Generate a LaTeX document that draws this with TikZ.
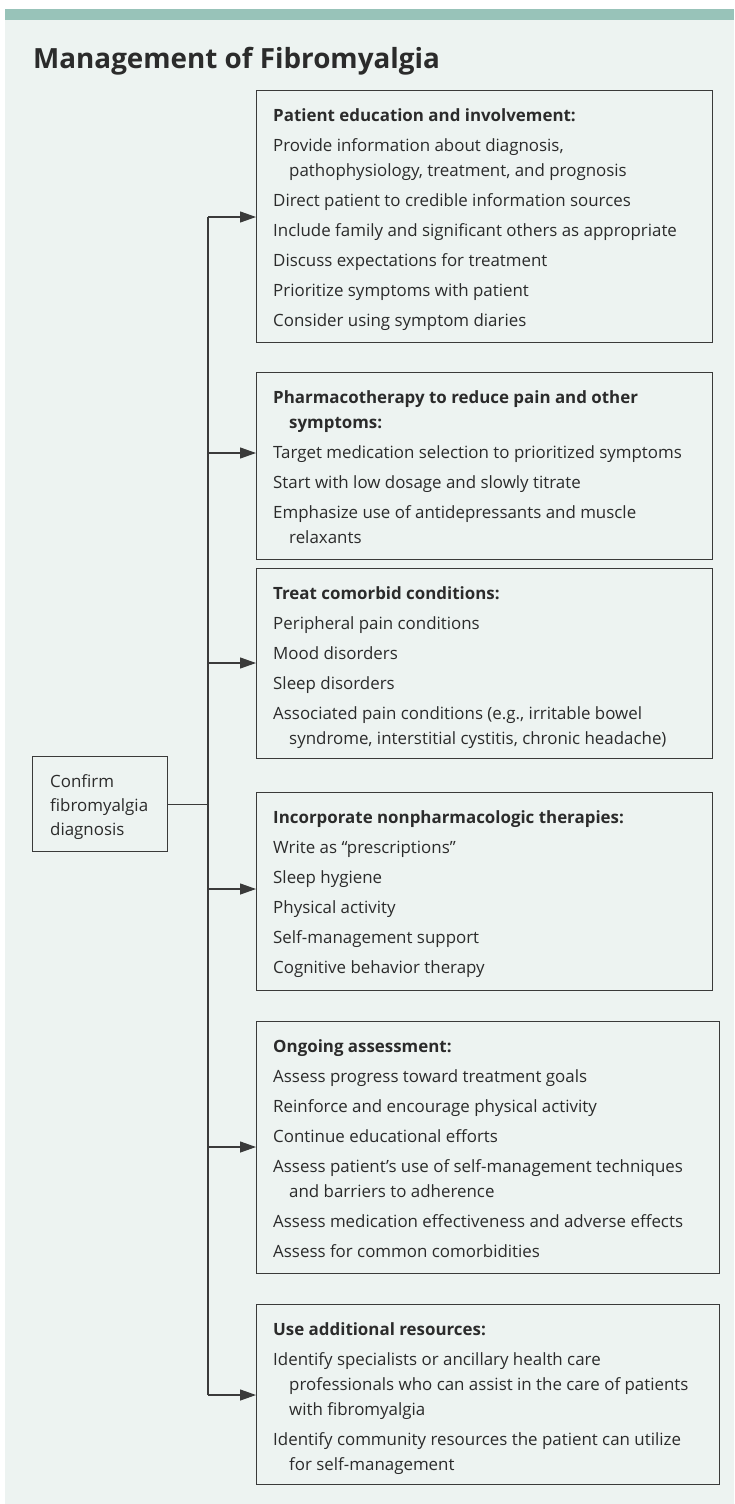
\documentclass[tikz,border=0pt]{standalone}
\usepackage{fontspec}
\setmainfont{Open Sans}
\usetikzlibrary{arrows.meta}
\definecolor{bg}{HTML}{EDF3F1}
\definecolor{bar}{HTML}{98C3B9}
\definecolor{ink}{HTML}{2B2B2B}
\definecolor{edge}{HTML}{3A3A3A}
\newcommand\cind{\hspace*{16pt}}
\newcommand\fst{\rule{0pt}{18pt}}
\begin{document}
\begin{tikzpicture}[x=1pt,y=-1pt,
 box/.style={draw=edge,line width=1.3pt,rectangle,anchor=north west,inner sep=0pt},
 txt/.style={anchor=north west,inner sep=0pt,align=left,text=ink,font=\fontsize{16.9}{25}\selectfont},
 link/.style={draw=edge,line width=1.2pt},
 arr/.style={link,-{Triangle[length=16pt,width=11pt]}}]
\useasboundingbox (0,0) rectangle (734,1504);
\fill[white] (0,0) rectangle (734,1504);
\fill[bg] (5,9) rectangle (734,1504);
\fill[bar] (5,9) rectangle (734,20);
\node[anchor=base west,inner sep=0pt,text=ink,font=\fontsize{27.8}{32}\selectfont\bfseries] (title) at (33,69) {Management of Fibromyalgia};

% confirm box
\node[box,minimum width=135pt,minimum height=95pt] (c) at (32,756) {};
\node[txt,font=\fontsize{16.9}{24}\selectfont] (ct) at (50,769) {\fst Confirm\\fibromyalgia\\diagnosis};

% boxes
\node[box,minimum width=456pt,minimum height=252pt] (b1) at (256,90) {};
\node[txt] (t1) at (273,103) {\fst\textbf{Patient education and involvement:}\\[5pt]
Provide information about diagnosis,\\
\cind pathophysiology, treatment, and prognosis\\[5pt]
Direct patient to credible information sources\\[5pt]
Include family and significant others as appropriate\\[5pt]
Discuss expectations for treatment\\[5pt]
Prioritize symptoms with patient\\[5pt]
Consider using symptom diaries};

\node[box,minimum width=456pt,minimum height=187pt] (b2) at (256,372) {};
\node[txt] (t2) at (273,385) {\fst\textbf{Pharmacotherapy to reduce pain and other}\\
\cind\textbf{symptoms:}\\[5pt]
Target medication selection to prioritized symptoms\\[5pt]
Start with low dosage and slowly titrate\\[5pt]
Emphasize use of antidepressants and muscle\\
\cind relaxants};

\node[box,minimum width=456pt,minimum height=190pt] (b3) at (256,568) {};
\node[txt] (t3) at (273,581) {\fst\textbf{Treat comorbid conditions:}\\[5pt]
Peripheral pain conditions\\[5pt]
Mood disorders\\[5pt]
Sleep disorders\\[5pt]
Associated pain conditions (e.g., irritable bowel\\
\cind syndrome, interstitial cystitis, chronic headache)};

\node[box,minimum width=456pt,minimum height=198pt] (b4) at (256,792) {};
\node[txt] (t4) at (273,805) {\fst\textbf{Incorporate nonpharmacologic therapies:}\\[5pt]
Write as “prescriptions”\\[5pt]
Sleep hygiene\\[5pt]
Physical activity\\[5pt]
Self-management support\\[5pt]
Cognitive behavior therapy};

\node[box,minimum width=463pt,minimum height=252pt] (b5) at (256,1021) {};
\node[txt] (t5) at (273,1034) {\fst\textbf{Ongoing assessment:}\\[5pt]
Assess progress toward treatment goals\\[5pt]
Reinforce and encourage physical activity\\[5pt]
Continue educational efforts\\[5pt]
Assess patient’s use of self-management techniques\\
\cind and barriers to adherence\\[5pt]
Assess medication effectiveness and adverse effects\\[5pt]
Assess for common comorbidities};

\node[box,minimum width=463pt,minimum height=180pt] (b6) at (256,1304) {};
\node[txt] (t6) at (273,1317) {\fst\textbf{Use additional resources:}\\[5pt]
Identify specialists or ancillary health care\\
\cind professionals who can assist in the care of patients\\
\cind with fibromyalgia\\[5pt]
Identify community resources the patient can utilize\\
\cind for self-management};

% connectors
\coordinate (j1) at (208,217);
\coordinate (j2) at (208,453);
\coordinate (j3) at (208,663);
\coordinate (j4) at (208,889);
\coordinate (j5) at (208,1147);
\coordinate (j6) at (208,1395);
\draw[link] (j1) -- (j6);
\draw[link] (c.east) -- (c.east -| j1);
\draw[arr] (j1) -- (j1 -| b1.west);
\draw[arr] (j2) -- (j2 -| b2.west);
\draw[arr] (j3) -- (j3 -| b3.west);
\draw[arr] (j4) -- (j4 -| b4.west);
\draw[arr] (j5) -- (j5 -| b5.west);
\draw[arr] (j6) -- (j6 -| b6.west);
\end{tikzpicture}
\end{document}
